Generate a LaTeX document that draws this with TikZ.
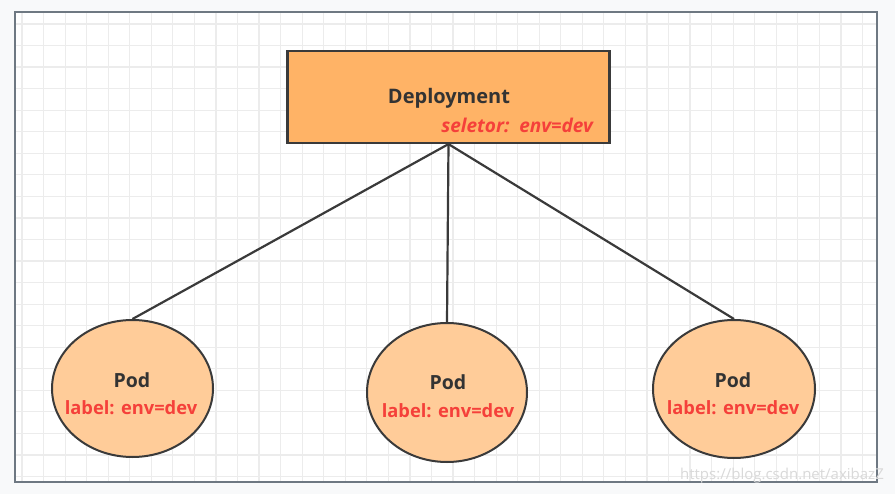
\documentclass[tikz,border=0pt]{standalone}
\usepackage{fontspec}
\setmainfont{Open Sans}
\usetikzlibrary{shapes.geometric}
\definecolor{boxfill}{HTML}{FFB366}
\definecolor{podfill}{HTML}{FFCC99}
\definecolor{redtxt}{HTML}{F5403A}
\definecolor{darktxt}{HTML}{333333}
\definecolor{edge}{HTML}{3A3A3A}
\definecolor{gridc}{HTML}{ECECEC}
\definecolor{framec}{HTML}{6E7882}
\definecolor{outer}{HTML}{F8F9FA}
\tikzset{
  depbox/.style={draw=edge, line width=2.2pt, fill=boxfill, minimum width=322pt, minimum height=92pt, inner sep=0pt},
  pod/.style={draw=edge, line width=2pt, fill=podfill, ellipse, inner sep=0pt},
  title/.style={font=\bfseries\fontsize{20}{22}\selectfont, text=darktxt, inner sep=0pt},
  podtitle/.style={font=\bfseries\fontsize{19.5}{22}\selectfont, text=darktxt, inner sep=0pt},
  lbl/.style={font=\bfseries\fontsize{18.3}{20}\selectfont, text=redtxt, inner sep=0pt},
  sellbl/.style={font=\bfseries\itshape\fontsize{19}{21}\selectfont, text=redtxt, inner sep=0pt},
  conn/.style={draw=edge, line width=2.2pt},
}
\begin{document}
\begin{tikzpicture}[x=1pt,y=-1pt]
\useasboundingbox (0,0) rectangle (895,494);
\fill[outer] (0,0) rectangle (895,494);
\fill[white] (15,12) rectangle (877,482);
\begin{scope}
\clip (15,12) rectangle (877,482);
\foreach \i in {0,...,40} {\draw[gridc, line width=1.2pt] (22+21.55*\i,12) -- (22+21.55*\i,482);}
\foreach \j in {0,...,21} {\draw[gridc, line width=1.2pt] (15,24+21.55*\j) -- (877,24+21.55*\j);}
\end{scope}
\draw[framec, line width=2pt] (15,12) rectangle (877,482);

\node[depbox] (dep) at (448.5,97) {};
\node[title] (deptxt) at (449,98) {Deployment};
\node[sellbl, anchor=base east] (sel) at (593,133) {seletor:\ \ env=dev};

\node[pod, minimum width=161pt, minimum height=137pt] (p1) at (132.5,388.5) {};
\node[pod, minimum width=160pt, minimum height=139pt] (p2) at (447,392.5) {};
\node[pod, minimum width=162pt, minimum height=138pt] (p3) at (734,389) {};

\draw[conn] (dep.south) -- (p1.north);
\draw[conn] (dep.south) -- (p2.north);
\draw[conn] (dep.south) -- (p3.north);

\node[podtitle] (t1) at (132,380) {Pod};
\node[lbl] (l1) at (131,408) {label: env=dev};
\node[podtitle] (t2) at (448,382) {Pod};
\node[lbl] (l2) at (448,411) {label: env=dev};
\node[podtitle] (t3) at (733,380) {Pod};
\node[lbl] (l3) at (733,408) {label: env=dev};

\node[font=\fontsize{15}{17}\selectfont, text=gray!30, anchor=base east, inner sep=0pt] (wm) at (884,479) {https://blog.csdn.net/axibazZ};
\end{tikzpicture}
\end{document}
